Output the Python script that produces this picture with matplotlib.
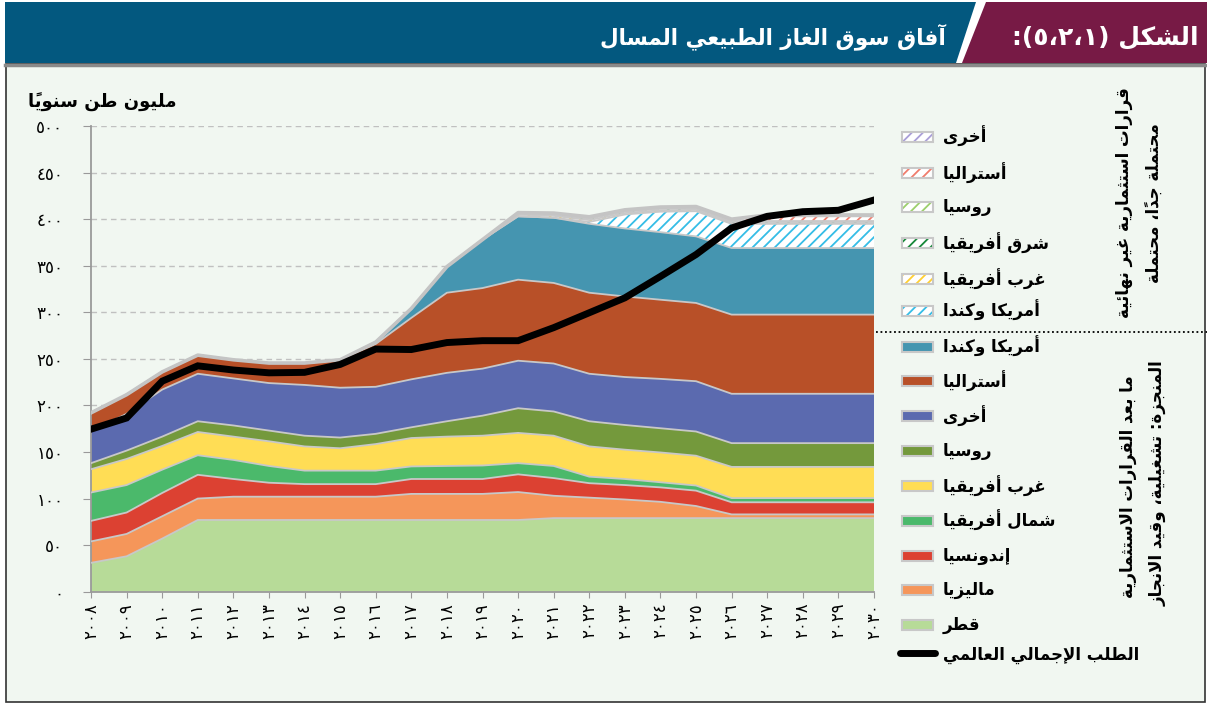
import numpy as np
import matplotlib
matplotlib.use('Agg')
import matplotlib.pyplot as plt
from matplotlib.patches import Polygon, Rectangle

# ---- data (million tonnes per year) ----
years = list(range(2008, 2031))

qatar     = [31, 38, 57, 77, 77, 77, 77, 77, 77, 77, 77, 77, 77, 79, 79, 79, 79, 79, 79, 79, 79, 79, 79]
malaysia  = [23, 24, 24, 23, 25, 25, 25, 25, 25, 28, 28, 28, 30, 24, 22, 20, 17.5, 13, 4, 4, 4, 4, 4]
indonesia = [22, 23, 25, 25.5, 19, 15, 13.5, 13.5, 13.5, 16, 16, 16, 19, 19, 15.5, 15.5, 15.5, 16.5, 13, 13, 13, 13, 13]
n_africa  = [30.5, 29.5, 25, 21, 20.5, 18, 14.5, 14.5, 14.5, 13.5, 14, 14.5, 12, 13, 7, 6.5, 5.5, 5.5, 4.5, 4.5, 4.5, 4.5, 4.5]
w_africa  = [25, 28, 25.5, 25, 25, 26.5, 26, 24, 28.5, 30.5, 31.5, 32, 32.5, 32.5, 32.5, 31.5, 32, 32, 33.5, 33.5, 33.5, 33.5, 33.5]
russia    = [6.5, 9, 10, 11.5, 12, 11.5, 11.5, 11.5, 11, 11.5, 16.5, 21.5, 26.5, 26, 27, 26.5, 26, 26, 25.5, 25.5, 25.5, 25.5, 25.5]
others    = [34, 39.5, 50.5, 51, 50.5, 51, 54.5, 53.5, 50.5, 51.5, 52, 50.5, 51, 51.5, 51, 51.5, 53, 54, 53, 53, 53, 53, 53]
australia = [20, 20.5, 19, 20, 20, 21.5, 23.5, 30, 46, 66, 86, 86.5, 87, 86.5, 87, 86.5, 85, 84, 85, 85, 85, 85, 85]
am_canada = [0, 0, 0, 0, 0, 0, 0, 0, 2, 10, 28, 52, 68, 70, 74, 73, 72.5, 71.5, 71.5, 71.5, 71.5, 71.5, 71.5]

# pre-FID (probable / possible)
am_canada_p = [0]*14 + [2, 15, 22, 27, 26, 26, 26, 26, 26]
w_africa_p  = [0]*12 + [2, 2, 2, 1.5, 1.5, 1.5, 0.5, 0.5, 0.5, 0.5, 0.5]
e_africa_p  = [0]*13 + [1, 1.5, 1.5, 1.5, 1.5, 1.5, 1.5, 1.5, 1.5, 1.5]
russia_p    = [0]*12 + [1]*11
australia_p = [0]*18 + [1, 5, 5, 5, 5]
others_p    = [0]*12 + [1, 1, 1, 1, 1, 1, 1, 1.5, 1.5, 1.5, 1.5]

demand = [174.5, 186.5, 226, 242.5, 238, 235, 235.5, 244, 260.5, 260, 267.5, 269.5, 269.5,
          283.5, 299.5, 315.5, 338.5, 362, 390.5, 403, 408, 409.5, 420.5]

# ---- minimal arabic shaping (presentation forms) + visual order ----
FORMS = {
    'ء': (0xFE80, 1), 'آ': (0xFE81, 2), 'أ': (0xFE83, 2), 'ؤ': (0xFE85, 2), 'إ': (0xFE87, 2),
    'ئ': (0xFE89, 4), 'ا': (0xFE8D, 2), 'ب': (0xFE8F, 4), 'ة': (0xFE93, 2), 'ت': (0xFE95, 4),
    'ث': (0xFE99, 4), 'ج': (0xFE9D, 4), 'ح': (0xFEA1, 4), 'خ': (0xFEA5, 4), 'د': (0xFEA9, 2),
    'ذ': (0xFEAB, 2), 'ر': (0xFEAD, 2), 'ز': (0xFEAF, 2), 'س': (0xFEB1, 4), 'ش': (0xFEB5, 4),
    'ص': (0xFEB9, 4), 'ض': (0xFEBD, 4), 'ط': (0xFEC1, 4), 'ظ': (0xFEC5, 4), 'ع': (0xFEC9, 4),
    'غ': (0xFECD, 4), 'ف': (0xFED1, 4), 'ق': (0xFED5, 4), 'ك': (0xFED9, 4), 'ل': (0xFEDD, 4),
    'م': (0xFEE1, 4), 'ن': (0xFEE5, 4), 'ه': (0xFEE9, 4), 'و': (0xFEED, 2), 'ى': (0xFEEF, 2),
    'ي': (0xFEF1, 4),
}
LAM_ALEF = {'آ': 0xFEF5, 'أ': 0xFEF7, 'إ': 0xFEF9, 'ا': 0xFEFB}


def is_mark(c):
    return '\u064b' <= c <= '\u0652'


def ar(s):
    n = len(s)

    def neighbour(i, step):
        j = i + step
        while 0 <= j < n and is_mark(s[j]):
            j += step
        return j

    out = []
    i = 0
    while i < n:
        c = s[i]
        if c not in FORMS:
            out.append(c)
            i += 1
            continue
        p = neighbour(i, -1)
        joins_prev = p >= 0 and s[p] in FORMS and FORMS[s[p]][1] == 4
        nx = neighbour(i, 1)
        if c == 'ل' and nx < n and s[nx] in LAM_ALEF:
            out.append(chr(LAM_ALEF[s[nx]] + int(joins_prev)))
            i = nx + 1
            continue
        base, k = FORMS[c]
        joins_next = k == 4 and nx < n and s[nx] in FORMS
        if k == 1:
            form = 0
        elif k == 2:
            form = int(joins_prev)
        else:
            form = [[0, 2], [1, 3]][joins_prev][joins_next]
        out.append(chr(base + form))
        i += 1
    clusters = []
    for c in out:
        if is_mark(c) and clusters:
            clusters[-1] += c
        else:
            clusters.append(c)
    mirror = {'(': ')', ')': '('}
    return ''.join(mirror.get(c, c) for c in reversed(clusters))


DIG = str.maketrans('0123456789', '٠١٢٣٤٥٦٧٨٩')

plt.rcParams['font.family'] = ['DejaVu Sans']
plt.rcParams['hatch.linewidth'] = 1.3

W, H = 1207, 704
fig = plt.figure(figsize=(W / 100, H / 100), dpi=100)
fig.patch.set_facecolor('white')

# background / decoration layer in pixel coords
bg = fig.add_axes([0, 0, 1, 1], zorder=0)
bg.set_xlim(0, W)
bg.set_ylim(H, 0)
bg.axis('off')
bg.add_patch(Rectangle((6, 64), 1199, 638, facecolor='#f1f7f1', edgecolor='#333333', lw=1.2))
bg.add_patch(Polygon([(5, 2), (976, 2), (956, 63), (5, 63)], closed=True, facecolor='#03587f', lw=0))
bg.add_patch(Polygon([(986, 2), (1207, 2), (1207, 63), (962, 63)], closed=True, facecolor='#771a45', lw=0))
bg.plot([5, 1207], [64.5, 64.5], color='#8a8a8a', lw=2.5)
bg.text(946, 37, ar('آفاق سوق الغاز الطبيعي المسال'), color='white', fontsize=15.5,
        fontweight='bold', ha='right', va='center')
bg.text(1199, 37, ar('الشكل (١،٢،٥):'), color='white', fontsize=18,
        fontweight='bold', ha='right', va='center')
bg.text(28, 102, ar('مليون طن سنوياً'), fontsize=13, fontweight='bold', ha='left', va='center')

# ---- main chart ----
ax = fig.add_axes([91 / W, 1 - 591.7 / H, (874 - 91) / W, (591.7 - 126) / H], zorder=1)
ax.set_facecolor('none')

fid_layers = [
    (qatar, '#b7db98'), (malaysia, '#f5965a'), (indonesia, '#dc4132'), (n_africa, '#4bb96b'),
    (w_africa, '#ffdd55'), (russia, '#74993c'), (others, '#5b6aaf'), (australia, '#b85028'),
    (am_canada, '#4595b0'),
]
pre_layers = [
    (am_canada_p, '#35bde6'), (w_africa_p, '#ffcf30'), (e_africa_p, '#17883a'),
    (russia_p, '#9ccf6c'), (australia_p, '#f07c6c'), (others_p, '#ab9fd8'),
]

x = np.array(years)
base = np.zeros(len(years))
tops = []
for vals, col in fid_layers:
    top = base + np.array(vals, dtype=float)
    ax.fill_between(x, base, top, facecolor=col, lw=0, zorder=2)
    tops.append(top)
    base = top
for vals, col in pre_layers:
    top = base + np.array(vals, dtype=float)
    ax.fill_between(x, base, top, facecolor='white', edgecolor=col, hatch='///', lw=0, zorder=2)
    tops.append(top)
    base = top
for t in tops[:-1]:
    ax.plot(x, t, color='#c8c8c8', lw=1.3, zorder=3)
ax.plot(x, tops[-1], color='#c4c4c4', lw=2.6, zorder=3)

ax.plot(x, demand, color='black', lw=5, zorder=5, solid_joinstyle='miter')

ax.set_xlim(2008, 2030)
ax.set_ylim(0, 500)
ax.set_yticks(range(0, 501, 50))
ax.set_yticklabels([str(v).translate(DIG) for v in range(0, 501, 50)], fontsize=12)
ax.set_xticks(years)
ax.set_xticklabels([str(y).translate(DIG) for y in years], rotation=90, fontsize=12)
ax.tick_params(axis='y', length=6, color='#999999', pad=14)
ax.tick_params(axis='x', length=4, color='#999999', pad=4)
for s in ['top', 'right']:
    ax.spines[s].set_visible(False)
for s in ['left', 'bottom']:
    ax.spines[s].set_color('#9a9a9a')
    ax.spines[s].set_linewidth(1.3)
ax.yaxis.grid(True, linestyle=(0, (4, 3)), color='#c0c0c0', lw=1)
ax.set_axisbelow(True)

# ---- legend (drawn by hand) ----
pre_names = ['أخرى', 'أستراليا', 'روسيا', 'شرق أفريقيا', 'غرب أفريقيا', 'أمريكا وكندا']
pre_rows = [136.7, 173.3, 206.7, 243.3, 279.3, 310.7]
for name, yy, (vals, col) in zip(pre_names, pre_rows, pre_layers[::-1]):
    bg.add_patch(Rectangle((902, yy - 5), 31, 10, facecolor='white', edgecolor=col, hatch='///', lw=0))
    bg.add_patch(Rectangle((902, yy - 5), 31, 10, facecolor='none', edgecolor='#c8c8c8', lw=1.5))
    bg.text(943, yy, ar(name), fontsize=12, fontweight='bold', ha='left', va='center')

fid_names = ['أمريكا وكندا', 'أستراليا', 'أخرى', 'روسيا', 'غرب أفريقيا', 'شمال أفريقيا',
             'إندونسيا', 'ماليزيا', 'قطر']
fid_rows = [346.7, 381, 416, 450.7, 486, 520.7, 556, 590, 625]
for name, yy, (vals, col) in zip(fid_names, fid_rows, fid_layers[::-1]):
    bg.add_patch(Rectangle((902, yy - 5), 31, 10, facecolor=col, edgecolor='#c8c8c8', lw=1.5))
    bg.text(943, yy, ar(name), fontsize=12, fontweight='bold', ha='left', va='center')

bg.plot([900, 935], [653, 653], color='black', lw=5, solid_capstyle='round')
bg.text(943, 655, ar('الطلب الإجمالي العالمي'), fontsize=12, fontweight='bold', ha='left', va='center')

bg.plot([876, 1207], [332, 332], color='black', lw=1.3, linestyle=(0, (1, 1.5)))

# side captions
bg.text(1124, 203, ar('قرارات استثمارية غير نهائية'), rotation=90, fontsize=12,
        fontweight='bold', ha='center', va='center')
bg.text(1154, 203, ar('محتملة جداً، محتملة'), rotation=90, fontsize=12,
        fontweight='bold', ha='center', va='center')
bg.text(1128, 487, ar('ما بعد القرارات الاستثمارية'), rotation=90, fontsize=12,
        fontweight='bold', ha='center', va='center')
bg.text(1158, 483, ar('المنجزة: تشغيلية، وقيد الانجاز'), rotation=90, fontsize=12,
        fontweight='bold', ha='center', va='center')

fig.savefig('out.png', dpi=100)
